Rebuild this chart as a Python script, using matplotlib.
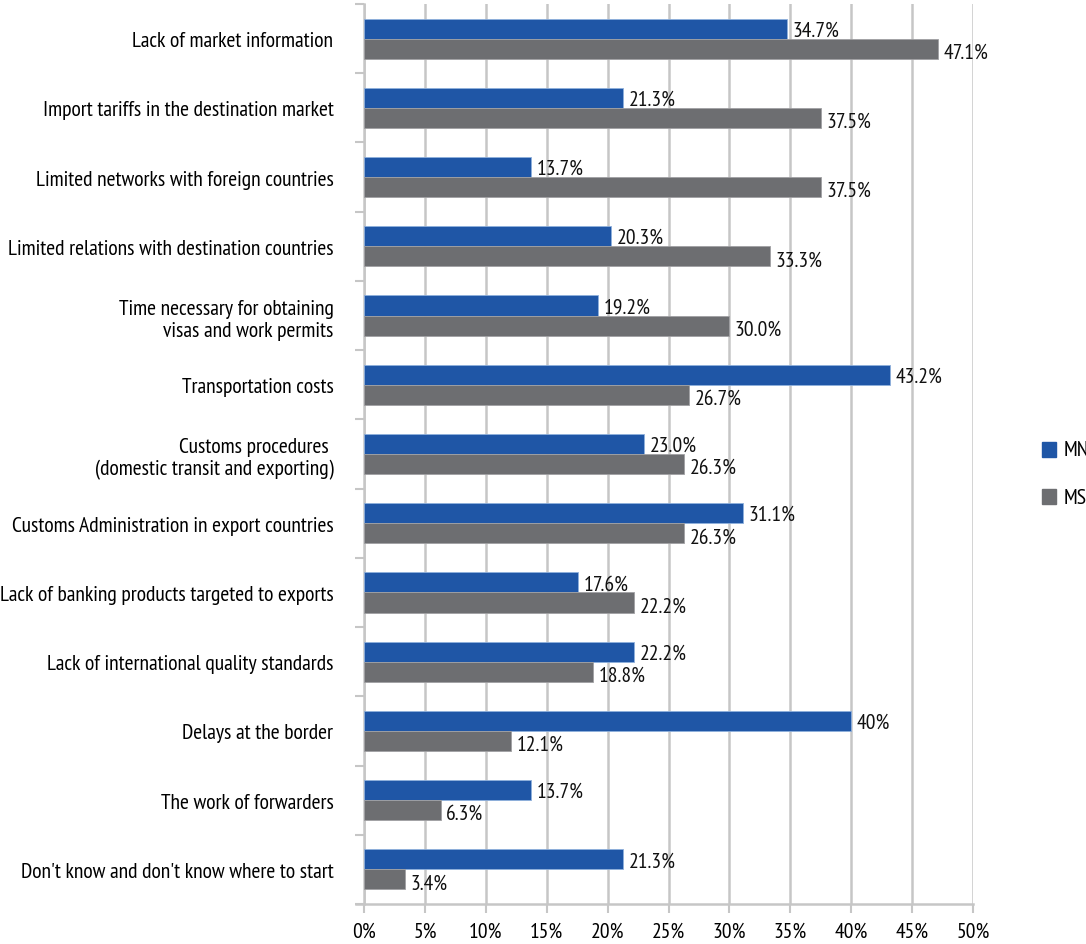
import matplotlib
matplotlib.use("Agg")
import matplotlib.pyplot as plt
import numpy as np

plt.rcParams['font.family'] = ['PT Sans Narrow', 'Roboto Condensed', 'DejaVu Sans']

categories = [
    "Lack of market information",
    "Import tariffs in the destination market",
    "Limited networks with foreign countries",
    "Limited relations with destination countries",
    "Time necessary for obtaining\nvisas and work permits",
    "Transportation costs",
    "Customs procedures \n(domestic transit and exporting)",
    "Customs Administration in export countries",
    "Lack of banking products targeted to exports",
    "Lack of international quality standards",
    "Delays at the border",
    "The work of forwarders",
    "Don't know and don't know where to start",
]
mn = [34.7, 21.3, 13.7, 20.3, 19.2, 43.2, 23.0, 31.1, 17.6, 22.2, 40, 13.7, 21.3]
ms = [47.1, 37.5, 37.5, 33.3, 30.0, 26.7, 26.3, 26.3, 22.2, 18.8, 12.1, 6.3, 3.4]
mn_labels = ["34.7%", "21.3%", "13.7%", "20.3%", "19.2%", "43.2%", "23.0%",
             "31.1%", "17.6%", "22.2%", "40%", "13.7%", "21.3%"]
ms_labels = ["47.1%", "37.5%", "37.5%", "33.3%", "30.0%", "26.7%", "26.3%",
             "26.3%", "22.2%", "18.8%", "12.1%", "6.3%", "3.4%"]
series_names = ["MN", "MS"]

BLUE = "#1f56a6"
GREY = "#6d6e71"
GRID = "#c6c6c6"
FS = 15.6

fig = plt.figure(figsize=(10.86, 9.45), dpi=100)
ax = fig.add_axes([0.3352, 0.0423, 0.5608, 0.9524])

y = np.arange(len(categories))
h = 0.29
ax.barh(y - h / 2, mn, height=h, color=BLUE, edgecolor="#8fb0dc", linewidth=0.6, zorder=3)
ax.barh(y + h / 2, ms, height=h, color=GREY, edgecolor="#a0a0a3", linewidth=0.6, zorder=3)

for i in range(len(categories)):
    ax.text(mn[i] + 0.45, y[i] - h / 2 + 0.02, mn_labels[i], va="center", ha="left",
            fontsize=FS, color="#111111")
    ax.text(ms[i] + 0.45, y[i] + h / 2 + 0.05, ms_labels[i], va="center", ha="left",
            fontsize=FS, color="#111111")

ax.set_xlim(0, 50)
ax.set_ylim(len(categories) - 0.5, -0.5)
ax.set_xticks(np.arange(0, 51, 5))
ax.set_xticklabels([f"{v}%" for v in range(0, 51, 5)], fontsize=FS)
ax.set_yticks(y)
ax.set_yticklabels(categories, fontsize=FS, linespacing=1.2)
ax.set_yticks(np.arange(-0.5, len(categories), 1), minor=True)

ax.tick_params(axis="y", which="major", length=0, pad=22)
ax.tick_params(axis="y", which="minor", length=6.5, width=1.5, color=GRID)
ax.tick_params(axis="x", which="major", length=6.5, width=1.5, color=GRID, pad=6)

ax.grid(axis="x", color=GRID, linewidth=1.8, zorder=0)
for side in ["top", "right"]:
    ax.spines[side].set_visible(False)
ax.spines["left"].set_color(GRID)
ax.spines["left"].set_linewidth(1.8)
ax.spines["bottom"].set_color(GRID)
ax.spines["bottom"].set_linewidth(1.8)
ax.spines["bottom"].set_bounds(-0.7, 50)

# legend squares next to the right edge of the figure
for k, (name, col) in enumerate(zip(series_names, [BLUE, GREY])):
    yy = 0.523 - k * 0.05
    fig.patches.append(plt.Rectangle((1042 / 1086, yy - 0.0075), 14 / 1086, 15 / 945,
                                     transform=fig.transFigure, color=col))
    fig.text(1064 / 1086, yy, name, fontsize=FS, va="center", ha="left")

fig.savefig("out.png", dpi=100, facecolor="white")
